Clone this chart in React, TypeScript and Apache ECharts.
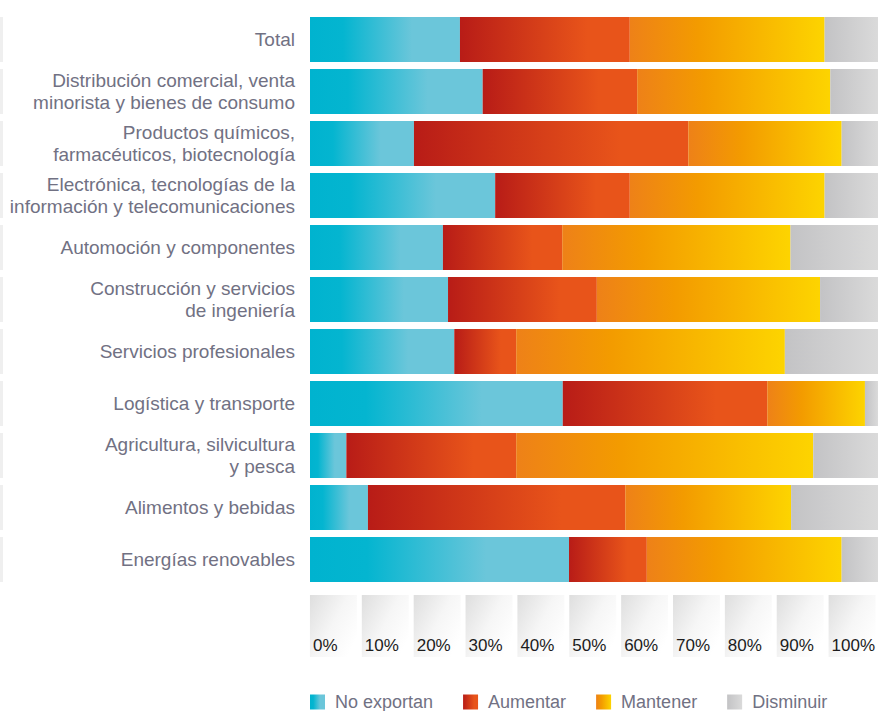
import React, { useEffect, useRef } from "react";
import * as echarts from "echarts";

const categories = [
  "Total",
  "Distribución comercial, venta\nminorista y bienes de consumo",
  "Productos químicos,\nfarmacéuticos, biotecnología",
  "Electrónica, tecnologías de la\ninformación y telecomunicaciones",
  "Automoción y componentes",
  "Construcción y servicios\nde ingeniería",
  "Servicios profesionales",
  "Logística y transporte",
  "Agricultura, silvicultura\ny pesca",
  "Alimentos y bebidas",
  "Energías renovables",
];

const noExportan = [26.4, 30.4, 18.3, 32.6, 23.4, 24.3, 25.4, 44.5, 6.4, 10.2, 45.6];
const aumentar = [29.9, 27.2, 48.3, 23.7, 21.0, 26.2, 10.9, 36.0, 29.9, 45.3, 13.7];
const mantener = [34.3, 34.0, 27.0, 34.3, 40.2, 39.3, 47.3, 17.2, 52.3, 29.2, 34.3];
const disminuir = [9.4, 8.4, 6.4, 9.4, 15.4, 10.2, 16.4, 2.3, 11.4, 15.3, 6.4];

const seriesNames = ["No exportan", "Aumentar", "Mantener", "Disminuir"];
const tickLabels = ["0%", "10%", "20%", "30%", "40%", "50%", "60%", "70%", "80%", "90%", "100%"];

const FONT = "'Liberation Sans', Arial, sans-serif";
const TEXT = "#717183";

export default function App() {
  const ref = useRef<HTMLDivElement>(null);
  useEffect(() => {
    if (!ref.current) return;
    const chart = echarts.init(ref.current, undefined, { renderer: "svg" });
    const G = echarts.graphic.LinearGradient;
    const grads = [
      new G(0, 0, 1, 0, [
        { offset: 0, color: "#00b3cf" },
        { offset: 0.22, color: "#04b5d0" },
        { offset: 0.68, color: "#6bc6da" },
        { offset: 1, color: "#6bc6da" },
      ]),
      new G(0, 0, 1, 0, [
        { offset: 0, color: "#b81c17" },
        { offset: 0.75, color: "#e8541a" },
        { offset: 1, color: "#e8541a" },
      ]),
      new G(0, 0, 1, 0, [
        { offset: 0, color: "#ee8118" },
        { offset: 0.35, color: "#f39b00" },
        { offset: 1, color: "#fdd400" },
      ]),
      new G(0, 0, 1, 0, [
        { offset: 0, color: "#c3c3c5" },
        { offset: 1, color: "#dadada" },
      ]),
    ];
    const values = [noExportan, aumentar, mantener, disminuir];
    const cellGrad = new G(0, 0, 1, 0.7, [
      { offset: 0, color: "#dedede" },
      { offset: 0.55, color: "#f6f6f6" },
      { offset: 1, color: "#ffffff" },
    ]);

    chart.setOption({
      animation: false,
      textStyle: { fontFamily: FONT },
      legend: {
        data: seriesNames,
        left: 310,
        top: 693,
        padding: 0,
        itemWidth: 15,
        itemHeight: 15,
        itemGap: 30,
        icon: "rect",
        selectedMode: false,
        textStyle: { color: TEXT, fontSize: 18, fontFamily: FONT, padding: [0, 0, 0, 5] },
      },
      grid: [
        { left: 310, right: 0, top: 13.5, height: 572 },
        { left: 307.5, width: 571, top: 595, height: 62 },
        { left: 0, width: 3, top: 13.5, height: 572 },
      ],
      xAxis: [
        { gridIndex: 0, type: "value", min: 0, max: 100, show: false },
        { gridIndex: 1, type: "category", data: tickLabels, show: false },
        { gridIndex: 2, type: "value", min: 0, max: 1, show: false },
      ],
      yAxis: [
        {
          gridIndex: 0,
          type: "category",
          inverse: true,
          data: categories,
          axisLine: { show: false },
          axisTick: { show: false },
          splitLine: { show: false },
          axisLabel: {
            color: TEXT,
            fontSize: 19,
            lineHeight: 22,
            margin: 15,
            align: "right",
            fontFamily: FONT,
          },
        },
        { gridIndex: 1, type: "value", min: 0, max: 1, show: false },
        { gridIndex: 2, type: "category", inverse: true, data: categories, show: false },
      ],
      series: [
        ...seriesNames.map((name, i) => ({
          name,
          type: "bar",
          stack: "total",
          xAxisIndex: 0,
          yAxisIndex: 0,
          barCategoryGap: "13.5%",
          data: values[i],
          itemStyle: { color: grads[i] },
          emphasis: { disabled: true },
        })),
        {
          name: "ticks",
          type: "bar",
          xAxisIndex: 1,
          yAxisIndex: 1,
          barCategoryGap: "9.5%",
          data: tickLabels.map(() => 1),
          itemStyle: { color: cellGrad },
          label: {
            show: true,
            position: "insideBottomLeft",
            distance: 3,
            formatter: (p: any) => tickLabels[p.dataIndex],
            color: "#1c1c1c",
            fontSize: 17,
            fontFamily: FONT,
          },
          emphasis: { disabled: true },
          silent: true,
        },
        {
          name: "rowMarks",
          type: "bar",
          xAxisIndex: 2,
          yAxisIndex: 2,
          barCategoryGap: "13.5%",
          data: categories.map(() => 1),
          itemStyle: { color: "#efefef" },
          silent: true,
        },
      ],
    });
    return () => chart.dispose();
  }, []);
  return (
    <div
      ref={ref}
      style={{ position: "fixed", left: 0, top: 0, width: 878, height: 711, background: "#fff" }}
    />
  );
}
